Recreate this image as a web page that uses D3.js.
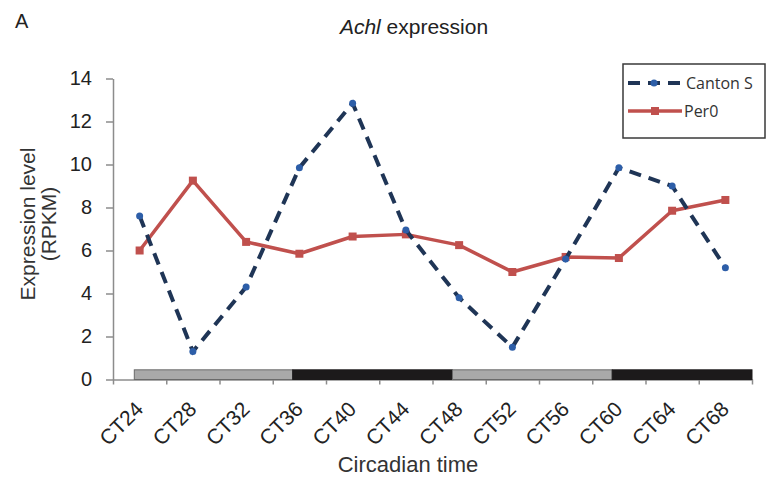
<!DOCTYPE html>
<html>
<head>
<meta charset="utf-8">
<script src="https://cdn.jsdelivr.net/npm/d3@7"></script>
<style>
body{margin:0;background:#fff;}
svg{display:block;}
text{font-family:"Liberation Sans",Arial,sans-serif;}
</style>
</head>
<body>
<svg id="chart" width="768" height="479"></svg>
<script>
const categories = ["CT24","CT28","CT32","CT36","CT40","CT44","CT48","CT52","CT56","CT60","CT64","CT68"];
const cantonS = [7.6, 1.3, 4.3, 9.85, 12.85, 6.95, 3.8, 1.5, 5.6, 9.85, 9.0, 5.2];
const per0 = [6.0, 9.25, 6.4, 5.85, 6.65, 6.75, 6.25, 5.0, 5.7, 5.65, 7.85, 8.35];
const yTicks = [0, 2, 4, 6, 8, 10, 12, 14];
const phaseStart = [23.6, 35.5, 47.5, 59.5];
const phaseEnd = [35.5, 47.5, 59.5, 70];
const phaseType = ["light", "dark", "light", "dark"];
const seriesNames = ["Canton S", "Per0"];

const svg = d3.select("#chart");
const mLeft = 113, mRight = 752, mTop = 78.5, mBottom = 379.5;

const x = d3.scaleBand().domain(categories).range([mLeft, mRight]).padding(0);
const xi = d3.scaleLinear().domain([0, categories.length]).range([mLeft, mRight]);
const xh = d3.scaleLinear().domain([22, 70]).range([mLeft, mRight]);
const y = d3.scaleLinear().domain([0, 14]).range([mBottom, mTop]);
const cx = d => x(d) + x.bandwidth() / 2;

const axisColor = "#8c8c8c";

// Title
svg.append("text").attr("x", 15).attr("y", 28).attr("font-size", 20).attr("fill", "#222").text("A");
const title = svg.append("text").attr("x", 414).attr("y", 34).attr("text-anchor", "middle")
  .attr("font-size", 21).attr("fill", "#222");
title.append("tspan").attr("font-style", "italic").text("Achl");
title.append("tspan").text(" expression");

// Y axis
const yAxis = svg.append("g").attr("transform", `translate(${mLeft},0)`)
  .call(d3.axisLeft(y).tickValues(yTicks).tickSize(7).tickPadding(14).tickSizeOuter(0));
yAxis.select(".domain").attr("stroke", axisColor).attr("stroke-width", 1.5);
yAxis.selectAll(".tick line").attr("stroke", axisColor).attr("stroke-width", 1.5);
yAxis.selectAll(".tick text").attr("font-size", 20).attr("fill", "#222");

// X axis ticks (boundaries)
const xAxis = svg.append("g").attr("transform", `translate(0,${mBottom})`)
  .call(d3.axisBottom(xi).tickValues(d3.range(categories.length + 1)).tickSize(5).tickFormat("").tickSizeOuter(0));
xAxis.select(".domain").attr("stroke", axisColor).attr("stroke-width", 1.5);
xAxis.selectAll(".tick line").attr("stroke", axisColor).attr("stroke-width", 1.5);

// X labels
const xLab = svg.append("g").attr("transform", `translate(0,${mBottom})`)
  .call(d3.axisBottom(x).tickSize(0).tickPadding(0));
xLab.select(".domain").remove();
xLab.selectAll(".tick text")
  .attr("font-size", 21).attr("fill", "#222")
  .attr("text-anchor", "end").attr("y", 0).attr("dy", 0)
  .attr("transform", "translate(5,31) rotate(-45)");

// Light/dark bar
svg.append("g").selectAll("rect").data(phaseType).join("rect")
  .attr("x", (d, i) => xh(phaseStart[i]))
  .attr("width", (d, i) => xh(phaseEnd[i]) - xh(phaseStart[i]))
  .attr("y", y(0.45)).attr("height", y(0) - y(0.45))
  .attr("fill", d => d === "light" ? "#a9a9a9" : "#1c1a1b")
  .attr("stroke", d => d === "light" ? "#6a6a6a" : "#1c1a1b")
  .attr("stroke-width", 1);

// Axis titles
svg.append("text").attr("x", 408).attr("y", 472).attr("text-anchor", "middle")
  .attr("font-size", 22).attr("fill", "#333").text("Circadian time");
const yt = svg.append("text").attr("transform", "translate(35,224) rotate(-90)")
  .attr("text-anchor", "middle").attr("font-size", 21).attr("fill", "#333");
yt.append("tspan").attr("x", 0).attr("dy", 0).text("Expression level");
yt.append("tspan").attr("x", 0).attr("dy", 21).text("(RPKM)");

// Lines
const line = d3.line().x((d, i) => cx(categories[i])).y(d => y(d));
svg.append("path").datum(per0).attr("d", line).attr("fill", "none")
  .attr("stroke", "#c0504d").attr("stroke-width", 3.5).attr("stroke-linejoin", "round");
svg.append("g").selectAll("rect").data(per0).join("rect")
  .attr("x", (d, i) => cx(categories[i]) - 4).attr("y", d => y(d) - 4)
  .attr("width", 8).attr("height", 8).attr("fill", "#c0504d");

svg.append("path").datum(cantonS).attr("d", line).attr("fill", "none")
  .attr("stroke", "#1f3556").attr("stroke-width", 4).attr("stroke-dasharray", "12,8");
svg.append("g").selectAll("circle").data(cantonS).join("circle")
  .attr("cx", (d, i) => cx(categories[i])).attr("cy", d => y(d)).attr("r", 3.5)
  .attr("fill", "#2d5ea8");

// Legend
const lg = svg.append("g");
lg.append("rect").attr("x", 623).attr("y", 64).attr("width", 142).attr("height", 74)
  .attr("fill", "#fff").attr("stroke", "#3a3a3a").attr("stroke-width", 1.5);
lg.append("line").attr("x1", 628).attr("x2", 680).attr("y1", 83).attr("y2", 83)
  .attr("stroke", "#1f3556").attr("stroke-width", 4).attr("stroke-dasharray", "12,8");
lg.append("circle").attr("cx", 654).attr("cy", 83).attr("r", 3.5).attr("fill", "#2d5ea8");
lg.append("line").attr("x1", 628).attr("x2", 682).attr("y1", 111).attr("y2", 111)
  .attr("stroke", "#c0504d").attr("stroke-width", 3.5);
lg.append("rect").attr("x", 651).attr("y", 107).attr("width", 8).attr("height", 8).attr("fill", "#c0504d");
lg.append("text").attr("x", 686).attr("y", 89).attr("font-size", 16).attr("fill", "#333")
  .style("font-family", "'Open Sans', sans-serif").text(seriesNames[0]);
lg.append("text").attr("x", 684).attr("y", 117).attr("font-size", 16).attr("fill", "#333")
  .style("font-family", "'Open Sans', sans-serif").text(seriesNames[1]);
</script>
</body>
</html>
